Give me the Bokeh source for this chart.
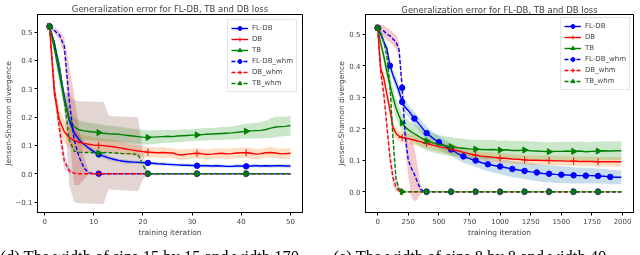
import math
from bokeh.plotting import figure
from bokeh.layouts import row
from bokeh.models import Legend, LegendItem, FixedTicker, Title
from bokeh.embed import file_html
from bokeh.resources import INLINE

TITLE = "Generalization error for FL-DB, TB and DB loss"
NAMES = ["FL-DB", "DB", "TB", "FL-DB_whm", "DB_whm", "TB_whm"]

# ---------------- left panel (15 by 15) ----------------
L_x = list(range(1, 51))
L_fldb = [0.520, 0.460, 0.370, 0.270, 0.190, 0.145, 0.120, 0.104, 0.090, 0.078,
          0.068, 0.062, 0.056, 0.051, 0.047, 0.044, 0.042, 0.041, 0.040, 0.039,
          0.038, 0.037, 0.035, 0.034, 0.033, 0.032, 0.031, 0.030, 0.030, 0.029,
          0.028, 0.028, 0.028, 0.027, 0.028, 0.027, 0.026, 0.026, 0.027, 0.027,
          0.026, 0.027, 0.028, 0.027, 0.028, 0.027, 0.028, 0.028, 0.027, 0.027]
L_fldb_sd = [0.005, 0.012, 0.018, 0.020, 0.020, 0.018, 0.015, 0.012, 0.010, 0.009,
             0.009, 0.008, 0.008, 0.008, 0.007, 0.007, 0.007, 0.006, 0.006, 0.006,
             0.006, 0.006, 0.006, 0.006, 0.006, 0.006, 0.006, 0.006, 0.006, 0.006,
             0.006, 0.006, 0.006, 0.006, 0.006, 0.006, 0.006, 0.006, 0.006, 0.006,
             0.006, 0.006, 0.006, 0.006, 0.006, 0.006, 0.006, 0.006, 0.006, 0.006]
L_db = [0.520, 0.280, 0.190, 0.148, 0.128, 0.117, 0.111, 0.107, 0.104, 0.101,
        0.100, 0.099, 0.097, 0.095, 0.092, 0.089, 0.086, 0.083, 0.080, 0.078,
        0.076, 0.075, 0.074, 0.075, 0.074, 0.073, 0.068, 0.066, 0.069, 0.071,
        0.072, 0.070, 0.068, 0.069, 0.071, 0.072, 0.070, 0.071, 0.073, 0.074,
        0.074, 0.072, 0.069, 0.071, 0.074, 0.075, 0.073, 0.070, 0.071, 0.072]
L_db_sd = [0.005, 0.030, 0.040, 0.040, 0.035, 0.032, 0.030, 0.029, 0.028, 0.028,
           0.027, 0.026, 0.025, 0.024, 0.023, 0.022, 0.021, 0.020, 0.020, 0.019,
           0.019, 0.018, 0.018, 0.019, 0.018, 0.017, 0.018, 0.019, 0.018, 0.018,
           0.019, 0.018, 0.017, 0.018, 0.019, 0.018, 0.018, 0.019, 0.018, 0.019,
           0.018, 0.019, 0.018, 0.017, 0.018, 0.019, 0.018, 0.018, 0.019, 0.018]
L_tb = [0.520, 0.440, 0.350, 0.260, 0.195, 0.165, 0.155, 0.151, 0.149, 0.147,
        0.145, 0.143, 0.141, 0.140, 0.139, 0.137, 0.135, 0.133, 0.131, 0.129,
        0.128, 0.129, 0.130, 0.131, 0.132, 0.131, 0.133, 0.134, 0.135, 0.136,
        0.137, 0.138, 0.139, 0.140, 0.141, 0.142, 0.143, 0.144, 0.146, 0.148,
        0.150, 0.151, 0.152, 0.153, 0.156, 0.161, 0.165, 0.166, 0.167, 0.170]
L_tb_sd = [0.005, 0.020, 0.030, 0.035, 0.035, 0.035, 0.033, 0.032, 0.031, 0.030,
           0.030, 0.029, 0.028, 0.028, 0.027, 0.027, 0.026, 0.026, 0.025, 0.025,
           0.025, 0.024, 0.024, 0.023, 0.023, 0.022, 0.022, 0.022, 0.021, 0.021,
           0.021, 0.022, 0.022, 0.021, 0.022, 0.023, 0.022, 0.023, 0.024, 0.025,
           0.026, 0.027, 0.028, 0.029, 0.031, 0.035, 0.036, 0.035, 0.034, 0.035]
L_fldbw = [0.520, 0.505, 0.490, 0.450, 0.260, 0.120, 0.060, 0.020, 0.003] + [0.0] * 41
L_fldbw_sd = [0.005, 0.010, 0.015, 0.030, 0.120, 0.160, 0.100, 0.040, 0.005] + [0.0] * 41
L_dbw = [0.520, 0.300, 0.160, 0.045, 0.010, 0.002] + [0.0] * 44
L_dbw_sd = [0.005, 0.030, 0.040, 0.030, 0.010, 0.003] + [0.0] * 44
L_tbw = [0.520, 0.460, 0.380, 0.260, 0.120, 0.080, 0.076, 0.075, 0.075, 0.074,
         0.073, 0.074, 0.075, 0.073, 0.072, 0.071, 0.071, 0.070, 0.068, 0.030] + [0.0] * 30
L_tbw_sd = [0.005, 0.010, 0.020, 0.030, 0.160, 0.180, 0.180, 0.180, 0.180, 0.180,
            0.180, 0.180, 0.130, 0.130, 0.130, 0.130, 0.130, 0.130, 0.130, 0.050] + [0.0] * 30
L_xticks = [0, 10, 20, 30, 40, 50]
L_xlabels = ["0", "10", "20", "30", "40", "50"]
L_yticks = [-0.1, 0.0, 0.1, 0.2, 0.3, 0.4, 0.5]
L_ylabels = ["\u22120.1", "0.0", "0.1", "0.2", "0.3", "0.4", "0.5"]
L_caption = "(d) The width of size 15 by 15 and width 170"

# ---------------- right panel (8 by 8) ----------------
R_x = [0, 25, 50, 75, 100, 125, 150, 175, 200, 225, 250, 275, 300, 325, 350, 375,
       400, 450, 500, 550, 600, 650, 700, 750, 800, 850, 900, 950, 1000, 1050, 1100,
       1150, 1200, 1250, 1300, 1350, 1400, 1450, 1500, 1550, 1600, 1650, 1700, 1750,
       1800, 1850, 1900, 1950, 1990]
R_fldb = [0.520, 0.500, 0.475, 0.455, 0.400, 0.370, 0.345, 0.318, 0.285, 0.268,
          0.258, 0.245, 0.232, 0.221, 0.209, 0.197, 0.186, 0.170, 0.157, 0.145,
          0.134, 0.122, 0.112, 0.105, 0.099, 0.092, 0.087, 0.083, 0.080, 0.076,
          0.072, 0.069, 0.066, 0.063, 0.061, 0.058, 0.057, 0.055, 0.054, 0.053,
          0.052, 0.051, 0.051, 0.051, 0.050, 0.049, 0.047, 0.046, 0.046]
R_fldb_sd = [0.005, 0.010, 0.012, 0.014, 0.016, 0.018, 0.020, 0.020, 0.020, 0.020,
             0.020, 0.020, 0.020, 0.020, 0.020, 0.020, 0.020, 0.020, 0.020, 0.020,
             0.020, 0.020, 0.020, 0.020, 0.020, 0.021, 0.022, 0.023, 0.024, 0.025,
             0.025, 0.026, 0.026, 0.027, 0.027, 0.027, 0.027, 0.027, 0.027, 0.026,
             0.026, 0.025, 0.025, 0.024, 0.024, 0.023, 0.023, 0.022, 0.022]
R_db = [0.520, 0.390, 0.360, 0.310, 0.260, 0.205, 0.185, 0.176, 0.172, 0.170,
        0.168, 0.166, 0.164, 0.161, 0.159, 0.156, 0.153, 0.148, 0.143, 0.139,
        0.135, 0.130, 0.125, 0.120, 0.116, 0.113, 0.111, 0.109, 0.107, 0.106,
        0.104, 0.103, 0.101, 0.100, 0.100, 0.099, 0.099, 0.098, 0.098, 0.097,
        0.097, 0.096, 0.096, 0.096, 0.095, 0.095, 0.095, 0.095, 0.095]
R_db_sd = [0.005, 0.020, 0.020, 0.020, 0.020, 0.020, 0.018, 0.017, 0.016, 0.016,
           0.016, 0.016, 0.016, 0.016, 0.016, 0.016, 0.016, 0.016, 0.016, 0.016,
           0.016, 0.016, 0.015, 0.015, 0.015, 0.015, 0.015, 0.015, 0.015, 0.015,
           0.015, 0.015, 0.015, 0.015, 0.015, 0.015, 0.015, 0.015, 0.015, 0.015,
           0.015, 0.015, 0.015, 0.015, 0.015, 0.015, 0.015, 0.015, 0.015]
R_tb = [0.520, 0.470, 0.430, 0.380, 0.340, 0.300, 0.265, 0.240, 0.218, 0.205,
        0.197, 0.190, 0.184, 0.178, 0.172, 0.166, 0.161, 0.155, 0.150, 0.146,
        0.143, 0.140, 0.138, 0.136, 0.135, 0.134, 0.133, 0.134, 0.132, 0.133,
        0.131, 0.131, 0.132, 0.130, 0.129, 0.128, 0.127, 0.128, 0.128, 0.129,
        0.128, 0.129, 0.127, 0.128, 0.129, 0.130, 0.129, 0.130, 0.130]
R_tb_sd = [0.005, 0.015, 0.020, 0.025, 0.030, 0.030, 0.030, 0.030, 0.030, 0.030,
           0.030, 0.030, 0.030, 0.030, 0.030, 0.030, 0.030, 0.030, 0.030, 0.030,
           0.030, 0.030, 0.030, 0.030, 0.030, 0.030, 0.030, 0.030, 0.030, 0.030,
           0.030, 0.030, 0.030, 0.030, 0.030, 0.030, 0.030, 0.030, 0.030, 0.030,
           0.030, 0.030, 0.030, 0.030, 0.030, 0.030, 0.030, 0.030, 0.030]
R_fldbw = [0.520, 0.515, 0.510, 0.500, 0.495, 0.485, 0.475, 0.450, 0.330, 0.175,
           0.100, 0.075, 0.055, 0.030, 0.008, 0.001] + [0.0] * 33
R_fldbw_sd = [0.005, 0.015, 0.018, 0.020, 0.020, 0.020, 0.022, 0.025, 0.030, 0.035,
              0.050, 0.090, 0.085, 0.055, 0.015, 0.003] + [0.0] * 33
R_dbw = [0.520, 0.380, 0.310, 0.210, 0.110, 0.045, 0.012, 0.003] + [0.0] * 41
R_dbw_sd = [0.005, 0.020, 0.020, 0.025, 0.030, 0.025, 0.012, 0.003] + [0.0] * 41
R_tbw = [0.520, 0.505, 0.475, 0.430, 0.340, 0.170, 0.040, 0.008] + [0.0] * 41
R_tbw_sd = [0.005, 0.010, 0.015, 0.020, 0.030, 0.030, 0.020, 0.005] + [0.0] * 41
R_xticks = [0, 250, 500, 750, 1000, 1250, 1500, 1750, 2000]
R_xlabels = ["0", "250", "500", "750", "1000", "1250", "1500", "1750", "2000"]
R_yticks = [0.0, 0.1, 0.2, 0.3, 0.4, 0.5]
R_ylabels = ["0.0", "0.1", "0.2", "0.3", "0.4", "0.5"]
R_caption = "(e) The width of size 8 by 8 and width 40"

LINE_COLORS = ["blue", "red", "green", "blue", "red", "green"]
BAND_COLORS = ["#1f77b4", "#ff7f0e", "#2ca02c", "#d62728", "#9467bd", "#8c564b"]
DASHES = ["solid", "solid", "solid", "4 2", "4 2", "4 2"]
MARKERS = ["circle", "cross", "triangle", "circle", "cross", "triangle"]
FONT = "DejaVu Sans"
FIG_H = 270


def panel(x, means, sds, steps, x0, xr, yr, xt, xl, yt, yl, borders, leg_margin,
          title_standoff, title_lh, caption, cap_offset):
    for m, s in zip(means, sds):
        assert len(m) == len(x) and len(s) == len(x), (len(m), len(s), len(x))
    p = figure(width=320, height=FIG_H, x_range=xr, y_range=yr, output_backend="svg",
               toolbar_location=None, min_border_left=borders[0], min_border_right=borders[1],
               min_border_top=borders[2], min_border_bottom=FIG_H - borders[3])
    p.title.text = TITLE
    p.title.align = "center"
    p.title.text_font = FONT
    p.title.text_font_size = "8.5px"
    p.title.text_font_style = "normal"
    p.title.standoff = title_standoff
    p.title.text_line_height = title_lh
    p.grid.visible = False
    p.outline_line_color = "black"
    p.outline_line_width = 1
    p.background_fill_color = "white"

    for ax, ticks, labels in ((p.xaxis[0], xt, xl), (p.yaxis[0], yt, yl)):
        ax.ticker = FixedTicker(ticks=ticks)
        ax.major_label_overrides = {t: lab for t, lab in zip(ticks, labels)}
        ax.major_label_text_font = FONT
        ax.major_label_text_font_size = "7px"
        ax.axis_label_text_font = FONT
        ax.axis_label_text_font_size = "7.5px"
        ax.axis_label_text_font_style = "normal"
        ax.major_tick_out = 3
        ax.major_tick_in = 0
        ax.minor_tick_out = 0
        ax.minor_tick_in = 0
        ax.axis_line_color = "black"
    p.xaxis.axis_label = "training iteration"
    p.yaxis.axis_label = "Jensen-Shannon divergence"
    p.xaxis.major_label_standoff = 2
    p.xaxis.axis_label_standoff = 1
    p.yaxis.major_label_standoff = 2
    p.yaxis.axis_label_standoff = 0

    for i in range(6):
        lo = [m - s for m, s in zip(means[i], sds[i])]
        hi = [m + s for m, s in zip(means[i], sds[i])]
        p.varea(x=x, y1=lo, y2=hi, fill_color=BAND_COLORS[i], fill_alpha=0.25)

    items = []
    for i in range(6):
        ln = p.line(x, means[i], line_color=LINE_COLORS[i], line_width=1.4, line_dash=DASHES[i])
        idx = [k for k, xv in enumerate(x) if (xv - x0) % steps[i] == 0]
        mx = [x[k] for k in idx]
        my = [means[i][k] for k in idx]
        kw = dict(marker=MARKERS[i], line_color=LINE_COLORS[i], fill_color=LINE_COLORS[i])
        if MARKERS[i] == "triangle":
            sc = p.scatter(mx, my, size=6, angle=-math.pi / 2, **kw)
        elif MARKERS[i] == "cross":
            sc = p.scatter(mx, my, size=7, line_width=1, **kw)
        else:
            sc = p.scatter(mx, my, size=5.5, **kw)
        items.append(LegendItem(label=NAMES[i], renderers=[ln, sc]))

    leg = Legend(items=items, location="top_right", label_text_font=FONT,
                 label_text_font_size="7px", label_height=10, glyph_height=10,
                 glyph_width=17, label_standoff=4, spacing=1, padding=3,
                 margin=leg_margin, border_line_color="#cccccc", border_line_width=1,
                 background_fill_alpha=0.8)
    p.add_layout(leg, "center")

    cap = Title(text=caption, align="left", offset=cap_offset, standoff=10,
                text_font="Liberation Serif", text_font_size="16.5px",
                text_font_style="normal", text_color="black")
    p.add_layout(cap, "below")
    return p


left = panel(L_x, [L_fldb, L_db, L_tb, L_fldbw, L_dbw, L_tbw],
             [L_fldb_sd, L_db_sd, L_tb_sd, L_fldbw_sd, L_dbw_sd, L_tbw_sd],
             [10] * 6, 1, (-1.45, 52.45), (-0.137, 0.562),
             L_xticks, L_xlabels, L_yticks, L_ylabels, (37, 18, 14, 212), 5, 1, 1.0,
             L_caption, -37)
right = panel(R_x, [R_fldb, R_db, R_tb, R_fldbw, R_dbw, R_tbw],
              [R_fldb_sd, R_db_sd, R_tb_sd, R_fldbw_sd, R_dbw_sd, R_tbw_sd],
              [100, 200, 200, 200, 200, 200], 0, (-99.5, 2089.5), (-0.066, 0.5625),
              R_xticks, R_xlabels, R_yticks, R_ylabels, (45, 7, 12, 213), 3, 0, 0.8,
              R_caption, -32)

layout = row(left, right, styles={"position": "fixed", "top": "0px", "left": "0px"})
open("out.html", "w").write(file_html(layout, INLINE))
